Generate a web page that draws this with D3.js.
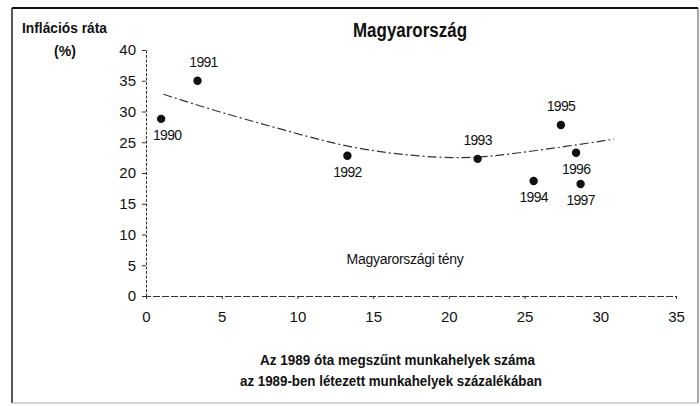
<!DOCTYPE html>
<html>
<head>
<meta charset="utf-8">
<script src="https://cdn.jsdelivr.net/npm/d3@7"></script>
<style>
  body { margin: 0; background: #fff; }
  svg text { font-family: Arial, "Liberation Sans", sans-serif; fill: #111; }
  .bold { font-weight: bold; }
</style>
</head>
<body>
<div id="chart"></div>
<script>
// Data
var years = [1990, 1991, 1992, 1993, 1994, 1995, 1996, 1997]
var jobLoss = [1.0, 3.4, 13.3, 21.9, 25.6, 27.4, 28.4, 28.7]      // x: % of 1989 jobs lost
var inflation = [28.8, 35.0, 22.8, 22.3, 18.7, 27.8, 23.3, 18.2]  // y: inflation rate %

// fitted trend line
var trendX = [1.15, 4.7, 9.1, 13.5, 18.3, 21.8, 24.4, 27.7, 30.9]
var trendY = [32.8, 30.0, 27.0, 24.0, 22.55, 22.4, 23.2, 24.3, 25.5]

var xTicks = [0, 5, 10, 15, 20, 25, 30, 35]
var yTicks = [0, 5, 10, 15, 20, 25, 30, 35, 40]

// where each year label sits relative to its dot
var labelPlace = ["below", "above", "below", "above", "below", "above", "below", "below"]

const W = 700, H = 406

var svg = d3.select("#chart")
  .append("svg")
  .attr("width", W)
  .attr("height", H)

// frame
svg.append("line").attr("x1", 12).attr("y1", 8).attr("x2", 698).attr("y2", 8)
  .style("stroke", "#111").style("stroke-width", 2)
svg.append("line").attr("x1", 12).attr("y1", 8).attr("x2", 12).attr("y2", 403)
  .style("stroke", "#222").style("stroke-width", 1.5)
svg.append("line").attr("x1", 698).attr("y1", 8).attr("x2", 698).attr("y2", 403)
  .style("stroke", "#555").style("stroke-width", 1)
svg.append("line").attr("x1", 12).attr("y1", 403).attr("x2", 698).attr("y2", 403)
  .style("stroke", "#aaa").style("stroke-width", 1)

// scales
var x = d3.scaleLinear().domain([0, 35]).range([146, 676])
var y = d3.scaleLinear().domain([0, 40]).range([296, 50])

// y axis
var yAxis = svg.append("g")
  .attr("transform", "translate(" + x(0) + ",0)")
  .call(d3.axisLeft(y).tickValues(yTicks).tickSize(4).tickPadding(6))
yAxis.select(".domain").style("stroke", "#333").style("stroke-dasharray", "3,1.5")
yAxis.selectAll(".tick line").style("stroke", "#333")
yAxis.selectAll("text").style("font-size", "15px").attr("font-family", null)

// x axis
var xAxis = svg.append("g")
  .attr("transform", "translate(0," + y(0) + ")")
  .call(d3.axisBottom(x).tickValues(xTicks).tickSize(3).tickPadding(12))
xAxis.select(".domain").style("stroke", "#333").style("stroke-dasharray", "7,2")
xAxis.selectAll(".tick line").style("stroke", "#333")
xAxis.selectAll("text").style("font-size", "15px").attr("font-family", null)

// trend line
var trend = trendX.map(function(v, i) { return [v, trendY[i]] })
svg.append("path")
  .datum(trend)
  .style("fill", "none")
  .style("stroke", "#333")
  .style("stroke-width", 1.2)
  .style("stroke-dasharray", "9,3,2,3")
  .attr("d", d3.line()
    .curve(d3.curveBasis)
    .x(function(d) { return x(d[0]) })
    .y(function(d) { return y(d[1]) }))

// points
var pts = years.map(function(yr, i) {
  return {year: yr, x: jobLoss[i], y: inflation[i], place: labelPlace[i]}
})

svg.selectAll("circle.pt")
  .data(pts)
  .enter()
  .append("circle")
  .attr("class", "pt")
  .attr("cx", function(d) { return x(d.x) })
  .attr("cy", function(d) { return y(d.y) })
  .attr("r", 4.2)
  .style("fill", "#111")

svg.selectAll("text.yr")
  .data(pts)
  .enter()
  .append("text")
  .attr("class", "yr")
  .attr("x", function(d, i) { return x(d.x) + (i < 2 ? 6 : 0) })
  .attr("y", function(d) { return y(d.y) + (d.place == "above" ? -14 : 21) })
  .attr("text-anchor", "middle")
  .style("font-size", "14px")
  .style("letter-spacing", "-0.7px")
  .text(function(d) { return d.year })

// titles and captions
svg.append("text")
  .attr("class", "bold")
  .attr("x", 353).attr("y", 37)
  .attr("textLength", 114).attr("lengthAdjust", "spacingAndGlyphs")
  .style("font-size", "20px")
  .text("Magyarország")

svg.append("text")
  .attr("class", "bold")
  .attr("x", 22).attr("y", 33)
  .attr("textLength", 85).attr("lengthAdjust", "spacingAndGlyphs")
  .style("font-size", "15px")
  .text("Inflációs ráta")

svg.append("text")
  .attr("class", "bold")
  .attr("x", 65).attr("y", 56)
  .attr("text-anchor", "middle")
  .style("font-size", "14px")
  .text("(%)")

svg.append("text")
  .attr("x", 405).attr("y", 264)
  .attr("text-anchor", "middle")
  .style("font-size", "14px")
  .style("letter-spacing", "-0.3px")
  .text("Magyarországi tény")

svg.append("text")
  .attr("class", "bold")
  .attr("x", 260).attr("y", 365)
  .attr("textLength", 275).attr("lengthAdjust", "spacingAndGlyphs")
  .style("font-size", "15px")
  .text("Az 1989 óta megszűnt munkahelyek száma")

svg.append("text")
  .attr("class", "bold")
  .attr("x", 240).attr("y", 386)
  .attr("textLength", 302).attr("lengthAdjust", "spacingAndGlyphs")
  .style("font-size", "15px")
  .text("az 1989-ben létezett munkahelyek százalékában")
</script>
</body>
</html>
